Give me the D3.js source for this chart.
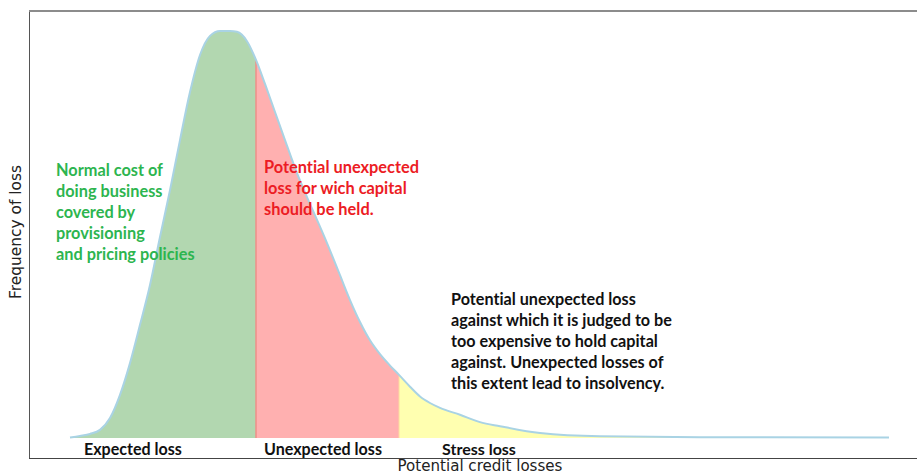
<!DOCTYPE html>
<html>
<head>
<meta charset="utf-8">
<script src="https://cdn.jsdelivr.net/npm/d3@7"></script>
<style>
  html, body { margin: 0; padding: 0; background: #fff; }
  svg { display: block; }
  text { font-variant-ligatures: none; font-feature-settings: "liga" 0, "clig" 0; }
</style>
</head>
<body>
<svg id="chart" width="917" height="475"></svg>
<script>
// ---- data ----
const lossValues = [0,10,20,30,40,50,60,70,80,90,100,110,120,130,140,150,160,167,177,186,195,205,215,227,237,247,257,270,280,290,300,310,320,329,340,350,360,370,390,410,430,470,530,630,819];
const frequency  = [0.1,0.5,1.0,2.0,4.9,10.6,18.4,27.8,37.6,49.4,60.9,73.2,85.0,94.1,98.8,100,100,99.8,97.5,92.9,87.0,80.1,73.2,65.1,59.2,53.6,47.9,40.0,33.9,28.5,24.0,20.6,17.8,15.5,12.6,10.2,8.6,7.4,5.7,3.9,2.9,1.2,0.4,0.2,0.1];
const zoneNames  = ["Expected loss", "Unexpected loss", "Stress loss"];
const zoneBreaks = [0, 186, 329, 819];
const zoneColors = ["#b2d7b0", "#ffb0b0", "#ffffb0"];
const xTitle = "Potential credit losses";
const yTitle = "Frequency of loss";
const noteGreen = ["Normal cost of", "doing business", "covered by", "provisioning", "and pricing policies"];
const noteRed   = ["Potential unexpected", "loss for wich capital", "should be held."];
const noteBlack = ["Potential unexpected loss", "against which it is judged to be", "too expensive to hold capital", "against. Unexpected losses of", "this extent lead to insolvency."];

const data = lossValues.map((x, i) => ({ x, y: frequency[i] }));

const svg = d3.select("#chart");
const x = d3.scaleLinear().domain([0, 819]).range([70, 889]);
const y = d3.scaleLinear().domain([0, 100]).range([438, 31]);

const labelFont = "Lato, 'Open Sans', sans-serif";
const axisFont = "'DejaVu Sans', sans-serif";

// fit a text element's font size so its width matches target
function fitText(sel, target, base) {
  sel.attr("font-size", base);
  const w = sel.node().getComputedTextLength();
  const fs = base * target / w;
  sel.attr("font-size", fs);
  return fs;
}

// frame
svg.append("line").attr("x1", 29.5).attr("x2", 29.5).attr("y1", 10).attr("y2", 458.5)
  .attr("stroke", "#555").attr("stroke-width", 1);
svg.append("line").attr("x1", 29).attr("x2", 917).attr("y1", 11).attr("y2", 11)
  .attr("stroke", "#8c8c8c").attr("stroke-width", 2);
svg.append("line").attr("x1", 29).attr("x2", 917).attr("y1", 458.5).attr("y2", 458.5)
  .attr("stroke", "#444").attr("stroke-width", 1);

// area zones via clip paths
const area = d3.area().x(d => x(d.x)).y0(y(0)).y1(d => y(d.y)).curve(d3.curveMonotoneX);
const defs = svg.append("defs");
zoneNames.forEach((name, i) => {
  defs.append("clipPath").attr("id", "clip" + i)
    .append("rect")
    .attr("x", x(zoneBreaks[i]))
    .attr("y", 0)
    .attr("width", x(zoneBreaks[i + 1]) - x(zoneBreaks[i]))
    .attr("height", 475);
  svg.append("path").datum(data)
    .attr("d", area)
    .attr("fill", zoneColors[i])
    .attr("clip-path", `url(#clip${i})`);
});

// boundary line between expected and unexpected
const freqAt = xv => frequency[lossValues.indexOf(xv)];
svg.append("line")
  .attr("x1", x(zoneBreaks[1])).attr("x2", x(zoneBreaks[1]))
  .attr("y1", y(0)).attr("y2", y(freqAt(zoneBreaks[1])))
  .attr("stroke", "#ee8f88").attr("stroke-width", 1.5);
svg.append("line")
  .attr("x1", x(zoneBreaks[2])).attr("x2", x(zoneBreaks[2]))
  .attr("y1", y(0)).attr("y2", y(freqAt(zoneBreaks[2])))
  .attr("stroke", "#ffd8a0").attr("stroke-width", 1);

// curve
const line = d3.line().x(d => x(d.x)).y(d => y(d.y)).curve(d3.curveMonotoneX);
svg.append("path").datum(data).attr("d", line)
  .attr("fill", "none").attr("stroke", "#a9d3e4").attr("stroke-width", 2);

// zone labels
const zoneLabelX = [84, 264, 442];
const zoneLabelW = [98, 118, 74];
zoneNames.forEach((name, i) => {
  const t = svg.append("text").text(name)
    .attr("x", zoneLabelX[i]).attr("y", 455)
    .attr("font-family", labelFont).attr("font-weight", "bold")
    .attr("fill", "#111");
  fitText(t, zoneLabelW[i], 14);
});

// notes
function note(lines, x0, y0, color, refIdx, refW) {
  const g = svg.append("g");
  const ts = lines.map((l, i) => g.append("text").text(l)
    .attr("x", x0).attr("y", y0 + i * 21)
    .attr("font-family", labelFont).attr("font-weight", "bold")
    .attr("fill", color));
  const fs = fitText(ts[refIdx], refW, 15);
  ts.forEach(t => t.attr("font-size", fs));
}
note(noteGreen, 56, 176, "#2db54f", 0, 107);
note(noteRed, 264, 173, "#ec1c24", 0, 155);
note(noteBlack, 451, 305, "#111", 1, 221);

// axis titles
const xt = svg.append("text").text(xTitle)
  .attr("x", 480).attr("y", 471).attr("text-anchor", "middle")
  .attr("font-family", axisFont).attr("fill", "#222");
fitText(xt, 165, 14);
const yt = svg.append("text").text(yTitle)
  .attr("transform", "translate(21,232) rotate(-90)")
  .attr("text-anchor", "middle")
  .attr("font-family", axisFont).attr("fill", "#222");
fitText(yt, 134, 14);
</script>
</body>
</html>
